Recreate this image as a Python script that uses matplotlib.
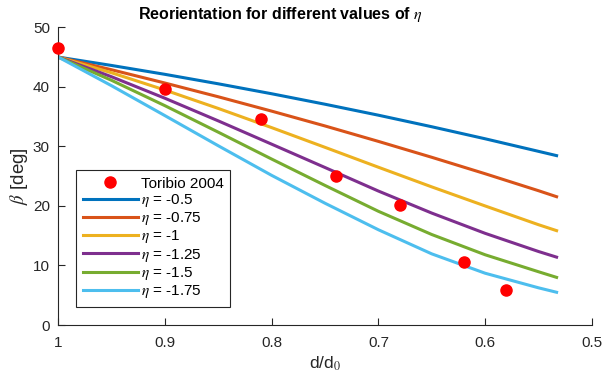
import matplotlib
matplotlib.use("Agg")
import matplotlib.pyplot as plt

plt.rcParams['font.family'] = ['Liberation Sans', 'DejaVu Sans']
plt.rcParams['mathtext.fontset'] = 'stix'

# Model curves: d/d0 sample positions and beta values (deg)
x_model = [1.0, 0.95, 0.9, 0.85, 0.8, 0.75, 0.7, 0.65, 0.6, 0.55, 0.533]
beta_eta_050 = [45, 43.59, 42.10, 40.51, 38.84, 37.08, 35.24, 33.30, 31.28, 29.17, 28.45]
beta_eta_075 = [45, 42.87, 40.64, 38.33, 35.92, 33.43, 30.84, 28.17, 25.41, 22.56, 21.55]
beta_eta_100 = [45, 42.36, 39.46, 36.37, 33.15, 29.84, 26.50, 23.20, 20.00, 16.85, 15.85]
beta_eta_125 = [45, 41.69, 38.08, 34.28, 30.37, 26.45, 22.50, 18.80, 15.40, 12.35, 11.40]
beta_eta_150 = [45, 41.09, 36.83, 32.38, 27.87, 23.44, 19.10, 15.20, 11.80, 8.95, 8.00]
beta_eta_175 = [45, 40.18, 35.16, 30.10, 25.13, 20.45, 16.00, 11.95, 8.70, 6.25, 5.50]

eta_labels = [r'$\eta$ = -0.5', r'$\eta$ = -0.75', r'$\eta$ = -1',
              r'$\eta$ = -1.25', r'$\eta$ = -1.5', r'$\eta$ = -1.75']

# Experimental data (Toribio 2004)
x_exp = [1.0, 0.9, 0.81, 0.74, 0.68, 0.62, 0.58]
beta_exp = [46.6, 39.6, 34.6, 25.1, 20.2, 10.5, 5.9]

colors = ['#0072BD', '#D95319', '#EDB120', '#7E2F8E', '#77AC30', '#4DBEEE']

fig = plt.figure(figsize=(6.04, 3.83), dpi=100)
ax = fig.add_axes([0.0965, 0.1514, 0.8833, 0.7773])

ax.plot(x_exp, beta_exp, 'o', color='#FF0000', markersize=8,
        label='Toribio 2004', clip_on=False, zorder=5)
series = [beta_eta_050, beta_eta_075, beta_eta_100,
          beta_eta_125, beta_eta_150, beta_eta_175]
for ys, c, lab in zip(series, colors, eta_labels):
    ax.plot(x_model, ys, '-', color=c, linewidth=2.2, label=lab)

ax.set_xlim(1.0, 0.5)
ax.set_ylim(0, 50)
ax.set_xticks([1.0, 0.9, 0.8, 0.7, 0.6, 0.5])
ax.set_xticklabels(['1', '0.9', '0.8', '0.7', '0.6', '0.5'])
ax.set_yticks([0, 10, 20, 30, 40, 50])

for s in ['top', 'right']:
    ax.spines[s].set_visible(False)
for s in ['left', 'bottom']:
    ax.spines[s].set_color('#262626')
    ax.spines[s].set_linewidth(0.8)
ax.tick_params(direction='in', length=5, width=0.8, colors='#262626',
               labelsize=11)
ax.tick_params(axis='x', pad=8)
ax.tick_params(axis='y', pad=6)

fig.text(280 / 604, 1 - 14 / 383,
         r'Reorientation for different values of $\eta$',
         fontsize=11.5, fontweight='bold', ha='center', va='center')
ax.set_xlabel('d/d$_0$', fontsize=12.5, color='#262626', labelpad=3)
ax.set_ylabel(r'$\beta$ [deg]', fontsize=13.5, color='#262626', labelpad=2)

leg = ax.legend(loc='lower left', bbox_to_anchor=(0.0332, 0.0605),
                borderaxespad=0, fontsize=11, handlelength=3.6,
                handletextpad=0.18, labelspacing=0.08, fancybox=False,
                framealpha=1, edgecolor='#262626', borderpad=0.45)
leg.get_frame().set_linewidth(0.8)

fig.savefig('out.png', dpi=100)
